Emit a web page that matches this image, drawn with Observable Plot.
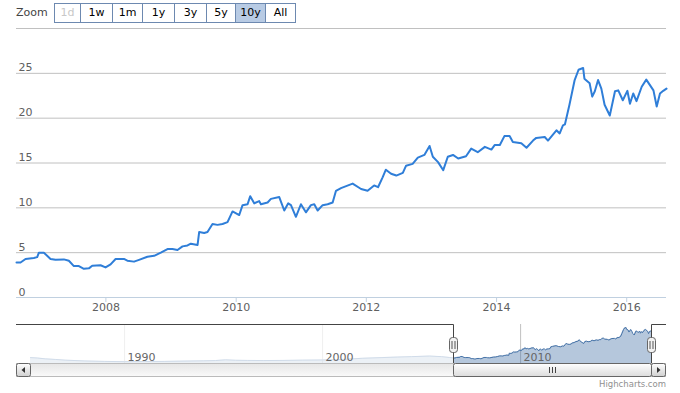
<!DOCTYPE html>
<html><head><meta charset="utf-8">
<script src="https://cdn.jsdelivr.net/npm/d3@7"></script>
<script src="https://cdn.jsdelivr.net/npm/@observablehq/plot@0.6"></script>
<style>
body{margin:0;background:#fff;font-family:"DejaVu Sans",sans-serif;}
#wrap{position:relative;width:680px;height:393px;overflow:hidden;background:#fff;}
#main,#nav{position:absolute;left:0;}
#main{top:0;}
#nav{top:320px;}
#zoom{position:absolute;left:0;top:0;width:680px;height:27px;}
#zoom .lbl{position:absolute;left:16px;top:6px;font-size:11px;color:#444;}
#zoom .btn{position:absolute;top:3px;height:20px;border:1px solid #6d89b0;background:#fff;font-size:11px;color:#000;text-align:center;line-height:18px;box-sizing:border-box;}
#zoom .btn.sel{background:#b8cbe4;}
#zoom .btn.dis{color:#c8c8c8;}
#main [aria-label="x-axis tick"] path, #main [aria-label="x-axis"] line{stroke:#C0D0E0;}
#main [aria-label="x-axis tick label"], #main [aria-label="x-axis tick label"] text, #main [aria-label="x-axis"] text{fill:#606060;}
</style>
</head><body>
<div id="wrap"><div id="main"></div><div id="nav"></div><div id="zoom"></div></div>
<script>
// ---- data (decimal years, values) ----
const mainYears = [2006.626,2006.688,2006.765,2006.893,2006.944,2006.970,2007.047,2007.149,2007.226,2007.354,2007.431,2007.508,2007.585,2007.662,2007.739,2007.790,2007.918,2007.995,2008.072,2008.149,2008.277,2008.329,2008.431,2008.508,2008.636,2008.739,2008.842,2008.944,2009.021,2009.098,2009.175,2009.252,2009.303,2009.406,2009.431,2009.508,2009.559,2009.636,2009.713,2009.790,2009.867,2009.944,2010.047,2010.098,2010.175,2010.216,2010.277,2010.354,2010.380,2010.483,2010.534,2010.662,2010.739,2010.800,2010.842,2010.918,2010.995,2011.072,2011.149,2011.200,2011.252,2011.329,2011.406,2011.483,2011.534,2011.611,
2011.79,2011.92,2012.02,2012.12,2012.18,2012.25,2012.30,2012.38,2012.46,2012.56,2012.61,2012.71,2012.79,2012.89,2012.97,2013.02,2013.10,2013.18,2013.25,2013.33,2013.41,2013.53,2013.61,2013.71,2013.82,2013.92,2013.97,2014.05,2014.12,2014.20,2014.25,2014.38,2014.46,2014.56,2014.61,2014.74,2014.79,2014.92,2014.97,2015.02,2015.05,2015.12,2015.20,2015.26,2015.33,2015.35,2015.43,2015.47,2015.51,2015.56,2015.61,2015.66,2015.74,2015.82,2015.87,2015.94,2016.01,2016.05,2016.10,2016.15,2016.23,2016.30,2016.41,2016.46,2016.51,2016.56,2016.61];
const mainValues = [3.9,3.9,4.3,4.4,4.5,5.0,5.0,4.3,4.2,4.25,4.1,3.5,3.5,3.2,3.25,3.55,3.6,3.35,3.7,4.3,4.3,4.1,4.0,4.2,4.55,4.65,5.0,5.4,5.4,5.3,5.7,5.8,6.0,5.85,7.3,7.2,7.3,8.2,8.1,8.2,8.4,9.6,9.2,10.3,10.4,11.3,10.5,10.75,10.4,10.6,11.0,11.2,9.7,10.5,10.3,9.0,10.4,9.5,10.3,10.4,9.7,10.3,10.4,10.6,11.9,12.2,
12.7,12.1,11.9,12.5,12.3,13.4,14.25,13.8,13.6,13.9,14.7,14.9,15.6,15.9,16.9,15.7,15.1,14.2,15.7,15.9,15.5,15.75,16.6,16.2,16.8,16.5,17.0,17.0,18.0,18.0,17.35,17.2,16.7,17.5,17.8,17.9,17.5,18.65,18.3,19.2,19.3,21.5,24.25,25.4,25.6,24.4,23.9,22.4,23.0,24.25,23.3,21.5,20.3,23.0,23.1,22.0,23.05,21.6,22.75,21.9,23.5,24.3,23.1,21.3,22.75,23.05,23.3];
// earlier history, only visible in the navigator
const navEarlyYears = [1985.25,1985.6,1986.0,1986.5,1987.0,1987.5,1988.0,1989.0,1990.0,1991.0,1992.0,1993.0,1994.0,1994.6,1995.1,1995.6,1996.2,1997.0,1998.0,1999.0,2000.0,2001.0,2002.0,2003.0,2003.8,2004.5,2005.4,2006.0,2006.4];
const navEarlyValues = [4.2,3.9,3.3,2.9,2.4,2.1,1.8,1.5,1.3,1.4,1.5,1.7,1.9,2.1,2.6,2.3,2.2,2.1,2.2,2.4,2.5,2.9,3.7,4.2,4.6,4.9,5.3,4.9,4.3];
const yTicks = [0,5,10,15,20,25];
const yGrid = [5,10,15,20,25,30];
const xTickYears = [2008,2010,2012,2014,2016];
const navTickYears = [1990,2000,2010];
const zoomButtons = ["1d","1w","1m","1y","3y","5y","10y","All"];
const selectedButton = "10y", disabledButton = "1d";
const creditText = "Highcharts.com";

// ---- helpers ----
const toDate = y => { const yr = Math.floor(y), s = Date.UTC(yr,0,1), e = Date.UTC(yr+1,0,1); return new Date(s + (y-yr)*(e-s)); };
const mainData = mainYears.map((y,i) => ({date: toDate(y), value: mainValues[i]}));
const navData = navEarlyYears.map((y,i) => ({date: toDate(y), value: navEarlyValues[i]})).concat(mainData);
const selStart = mainData[0].date, selEnd = mainData[mainData.length-1].date;

// ---- zoom buttons ----
const zoom = document.getElementById("zoom");
const lbl = document.createElement("div"); lbl.className = "lbl"; lbl.textContent = "Zoom"; zoom.appendChild(lbl);
const btnWidths = [27,33,31,33,33,30,31,31];
let bx = 54;
zoomButtons.forEach((b,i) => {
  const d = document.createElement("div");
  d.className = "btn" + (b === selectedButton ? " sel" : "") + (b === disabledButton ? " dis" : "");
  d.style.left = bx + "px"; d.style.width = btnWidths[i] + "px";
  d.textContent = b; zoom.appendChild(d);
  bx += btnWidths[i] - 1;
});

// ---- main chart ----
const main = Plot.plot({
  width: 680, height: 320,
  marginLeft: 16, marginRight: 14, marginTop: 28, marginBottom: 23,
  style: {fontFamily: "DejaVu Sans, sans-serif", fontSize: "11px", color: "#606060", background: "transparent"},
  x: {type: "utc", domain: [selStart, selEnd], ticks: xTickYears.map(toDate), tickFormat: d3.utcFormat("%Y"), tickSize: 5, tickPadding: 1, label: null},
  y: {domain: [0, 30], axis: null},
  marks: [
    Plot.ruleY(yGrid, {stroke: "#C0C0C0"}),
    Plot.ruleY([0], {stroke: "#C0D0E0"}),
    Plot.text(yTicks, {y: d => d, text: d => String(d), frameAnchor: "left", textAnchor: "start", lineAnchor: "bottom", dx: 2, dy: -2, fill: "#606060"}),
    Plot.line(mainData, {x: "date", y: "value", stroke: "#2f7ed8", strokeWidth: 2})
  ]
});
document.getElementById("main").appendChild(main);

// ---- navigator + scrollbar ----
function chrome(index, scales, values, dim) {
  const x = scales.x;
  const sx = Math.round(x(selStart)), ex = Math.round(x(selEnd));
  const top = dim.marginTop, bot = dim.height - dim.marginBottom;
  const left = dim.marginLeft - 14, right = dim.width - dim.marginRight + 15;
  const g = d3.create("svg:g");
  const defs = g.append("defs");
  const gr = (id, a, b) => { const lg = defs.append("linearGradient").attr("id", id).attr("x1",0).attr("y1",0).attr("x2",0).attr("y2",1);
    lg.append("stop").attr("offset","0").attr("stop-color",a); lg.append("stop").attr("offset","1").attr("stop-color",b); };
  gr("sbTrack", "#e6e6e6", "#fafafa"); gr("sbBtn", "#ffffff", "#d0d0d0"); gr("sbThumb", "#ffffff", "#dcdcdc");
  // outline
  g.append("path").attr("fill","none").attr("stroke","#444").attr("stroke-width",1)
    .attr("d", `M${left},${top+0.5}H${sx+0.5}V${bot}M${ex+0.5},${bot}V${top+0.5}H${right}`);
  // scrollbar track
  const sy = bot, sh = 14;
  g.append("rect").attr("x", left+0.5).attr("y", sy+0.5).attr("width", right-left-1).attr("height", sh-1).attr("fill","url(#sbTrack)").attr("stroke","#bbb");
  // buttons
  [[left, -1],[right-15, 1]].forEach(([bx0, dir]) => {
    g.append("rect").attr("x", bx0+0.5).attr("y", sy+0.5).attr("width", 14).attr("height", sh-1).attr("rx", 2).attr("fill","url(#sbBtn)").attr("stroke","#666");
    const cx = bx0 + 7.5, cy = sy + 7;
    g.append("path").attr("fill","#333").attr("d", dir < 0 ? `M${cx-2},${cy}L${cx+1.5},${cy-3}L${cx+1.5},${cy+3}Z` : `M${cx+2},${cy}L${cx-1.5},${cy-3}L${cx-1.5},${cy+3}Z`);
  });
  // thumb
  g.append("rect").attr("x", sx+0.5).attr("y", sy+0.5).attr("width", ex-sx).attr("height", sh-1).attr("rx", 2).attr("fill","url(#sbThumb)").attr("stroke","#666");
  const mx = Math.round((sx+ex)/2);
  [-3,0,3].forEach(o => g.append("line").attr("x1", mx+o+0.5).attr("x2", mx+o+0.5).attr("y1", sy+4).attr("y2", sy+10).attr("stroke","#444"));
  // handles
  [sx, ex].forEach(h => {
    g.append("rect").attr("x", h-3.5).attr("y", top+13.5).attr("width", 8).attr("height", 15).attr("rx", 3).attr("fill","#f2f2f2").attr("stroke","#666");
    [-1, 2].forEach(o => g.append("line").attr("x1", h+o).attr("x2", h+o).attr("y1", top+17).attr("y2", top+25).attr("stroke","#555"));
  });
  // credits
  g.append("text").attr("x", right).attr("y", dim.height - 6).attr("text-anchor","end").attr("font-size", 8.5).attr("fill","#909090").text(creditText);
  return g.node();
}

const nav = Plot.plot({
  width: 680, height: 73,
  marginLeft: 30, marginRight: 29, marginTop: 4, marginBottom: 30,
  style: {fontFamily: "DejaVu Sans, sans-serif", fontSize: "11px", background: "transparent"},
  x: {type: "utc", domain: [navData[0].date, selEnd], axis: null},
  y: {domain: [0, 27.8], axis: null},
  marks: [
    Plot.ruleX(navTickYears.map(toDate), {stroke: "#C0C0C0"}),
    Plot.areaY(navData, {x: "date", y: "value", fill: "#4572A7", fillOpacity: 0.4}),
    Plot.lineY(navData, {x: "date", y: "value", stroke: "#4572A7", strokeWidth: 1}),
    Plot.rect([0], {x1: () => navData[0].date, x2: () => selStart, fill: "#fff", fillOpacity: 0.75}),
    Plot.text(navTickYears, {x: d => toDate(d), text: d => String(d), frameAnchor: "bottom", textAnchor: "start", lineAnchor: "bottom", dx: 3, dy: -3, fill: "#666"}),
    chrome
  ]
});
document.getElementById("nav").appendChild(nav);
</script>
</body></html>
